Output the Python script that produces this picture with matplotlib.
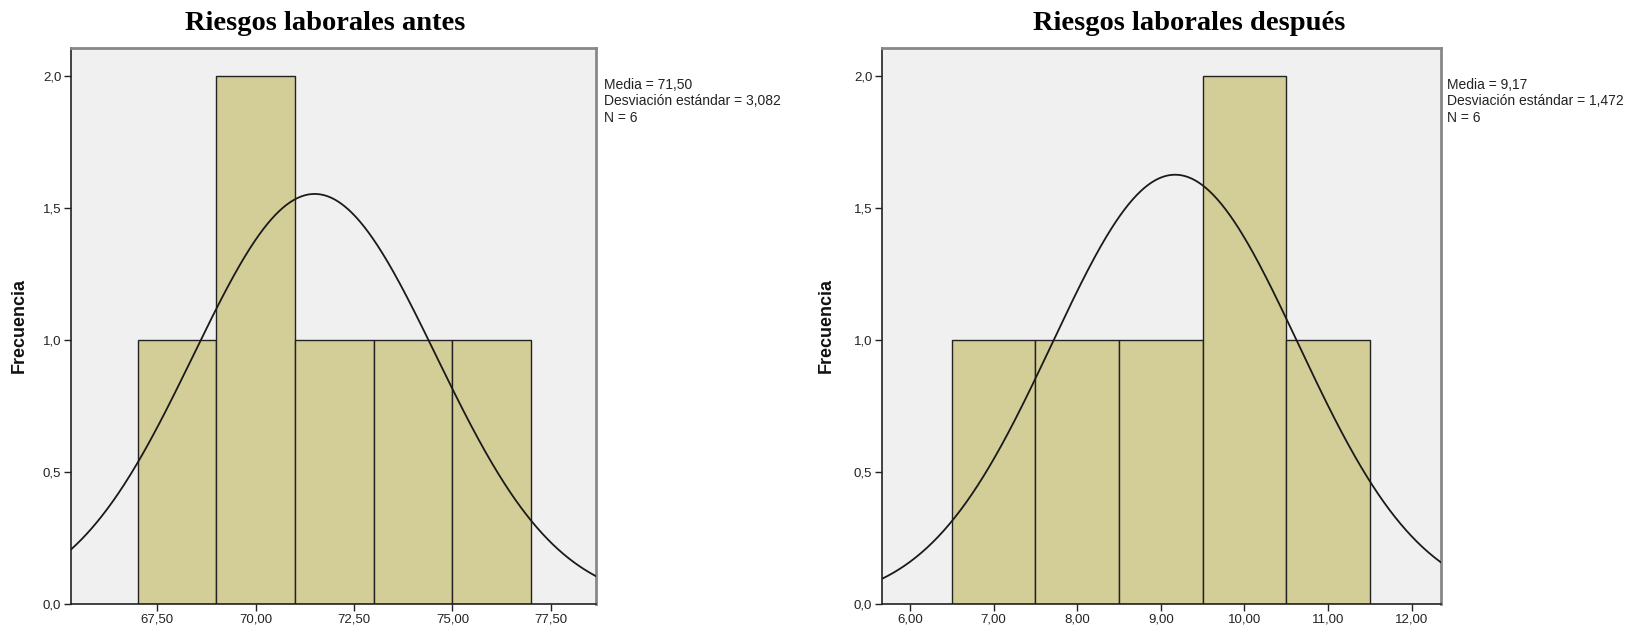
import numpy as np
import matplotlib
matplotlib.use("Agg")
import matplotlib.pyplot as plt
from matplotlib.ticker import FuncFormatter

# datos (histogramas SPSS)
titles = ["Riesgos laborales antes", "Riesgos laborales después"]
edges_antes = [67, 69, 71, 73, 75, 77]
counts_antes = [1, 2, 1, 1, 1]
edges_despues = [6.5, 7.5, 8.5, 9.5, 10.5, 11.5]
counts_despues = [1, 1, 1, 2, 1]
medias = [71.50, 9.17]
desviaciones = [3.082, 1.472]
ns = [6, 6]
xticks_antes = [67.5, 70.0, 72.5, 75.0, 77.5]
xticks_despues = [6.0, 7.0, 8.0, 9.0, 10.0, 11.0, 12.0]
yticks = [0.0, 0.5, 1.0, 1.5, 2.0]

xlims = [(65.31, 78.65), (5.665, 12.35)]
# posiciones de los ejes en fraccion de figura
positions = [[0.0433, 0.0458, 0.3199, 0.8783], [0.5375, 0.0458, 0.3406, 0.8783]]
title_x = [0.198, 0.7247]
ylabel_x = [0.0116, 0.5035]
stats_x = [0.368, 0.8815]

bar_color = "#D3CE97"
bg_color = "#F0F0F0"

def coma(v, dec):
	return ("{:." + str(dec) + "f}").format(v).replace(".", ",")

fig = plt.figure(figsize=(16.41, 6.33), dpi=100)

datos = [(edges_antes, counts_antes, xticks_antes), (edges_despues, counts_despues, xticks_despues)]

for k in range(2):
	edges, counts, xticks = datos[k]
	ax = fig.add_axes(positions[k])
	ax.set_facecolor(bg_color)
	lefts = edges[:-1]
	widths = [edges[i+1] - edges[i] for i in range(len(counts))]
	ax.bar(lefts, counts, width=widths, align="edge", color=bar_color,
		edgecolor="#222222", linewidth=1.0, zorder=2)

	# curva normal ajustada
	bw = widths[0]
	xs = np.linspace(xlims[k][0], xlims[k][1], 400)
	ys = ns[k] * bw / (desviaciones[k] * np.sqrt(2 * np.pi)) * np.exp(-0.5 * ((xs - medias[k]) / desviaciones[k]) ** 2)
	ax.plot(xs, ys, color="#1a1a1a", linewidth=1.3, zorder=3)

	ax.set_xlim(xlims[k])
	ax.set_ylim(0, 2.106)
	ax.set_xticks(xticks)
	ax.set_yticks(yticks)
	ax.xaxis.set_major_formatter(FuncFormatter(lambda v, p: coma(v, 2)))
	ax.yaxis.set_major_formatter(FuncFormatter(lambda v, p: coma(v, 1)))
	ax.tick_params(direction="out", length=5, width=1, colors="#222222",
		labelsize=9.5, labelcolor="#222222", pad=2)
	for lab in ax.get_xticklabels() + ax.get_yticklabels():
		lab.set_fontfamily("Liberation Sans")
	for side in ["left", "bottom"]:
		ax.spines[side].set_color("#222222")
		ax.spines[side].set_linewidth(1.2)
	for side in ["top", "right"]:
		ax.spines[side].set_color("#888888")
		ax.spines[side].set_linewidth(2.0)

	fig.text(ylabel_x[k], 0.485, "Frecuencia", rotation=90, ha="center", va="center",
		fontsize=13, fontweight="bold", fontfamily="Liberation Sans", color="#111111")
	fig.text(title_x[k], 1 - 23 / 633, titles[k], ha="center", va="center", fontsize=20.5,
		fontweight="bold", fontfamily="Liberation Serif", color="black")

	texto = "Media = " + coma(medias[k], 2) + "\nDesviación estándar = " + coma(desviaciones[k], 3) + "\nN = " + str(ns[k])
	fig.text(stats_x[k], 1 - 78 / 633, texto, ha="left", va="top",
		fontsize=10, fontfamily="Liberation Sans", color="#222222", linespacing=1.22)

fig.savefig("out.png", dpi=100, facecolor="white")
